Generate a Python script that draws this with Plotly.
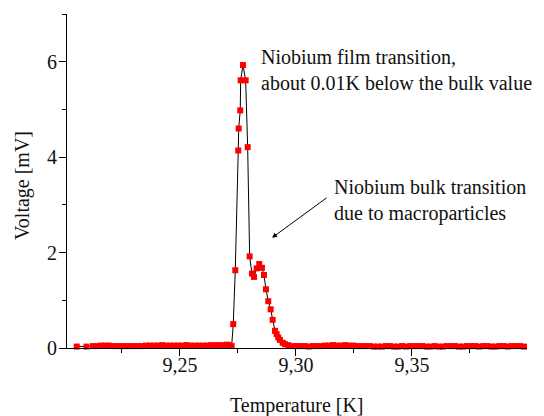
import plotly.graph_objects as go

# Temperature [K] and Voltage [mV]
temp_left = [9.2055, 9.2097, 9.2125, 9.2142, 9.2160, 9.2178, 9.2195, 9.2213, 9.2230,
             9.2248, 9.2265, 9.2283, 9.2300, 9.2318, 9.2335, 9.2353, 9.2370, 9.2388,
             9.2405, 9.2423, 9.2440, 9.2458, 9.2475, 9.2493, 9.2510, 9.2528, 9.2545,
             9.2563, 9.2580, 9.2598, 9.2615, 9.2633, 9.2650, 9.2668, 9.2685, 9.2703,
             9.2712]
volt_left = [0.03, 0.03, 0.04, 0.04, 0.05, 0.05, 0.05, 0.04, 0.04,
             0.04, 0.04, 0.04, 0.04, 0.04, 0.04, 0.05, 0.05, 0.05,
             0.05, 0.06, 0.05, 0.05, 0.05, 0.05, 0.05, 0.06, 0.05,
             0.05, 0.05, 0.05, 0.05, 0.06, 0.06, 0.06, 0.06, 0.07,
             0.06]

temp_peak = [9.27228, 9.27297, 9.27384, 9.27513, 9.27530, 9.27599, 9.27616, 9.27716,
             9.27832, 9.27918, 9.28004, 9.28103, 9.28190, 9.28306, 9.28418, 9.28534,
             9.28621, 9.28707, 9.28806, 9.28909, 9.28996, 9.29095, 9.29168, 9.29237,
             9.29310, 9.29427, 9.29526, 9.29668, 9.29884, 9.30030]
volt_peak = [0.04, 0.50, 1.63, 4.14, 4.60, 4.98, 5.61, 5.93,
             5.61, 4.21, 1.92, 1.56, 1.49, 1.67, 1.76, 1.68,
             1.53, 1.23, 0.98, 0.81, 0.59, 0.36, 0.29, 0.22,
             0.17, 0.11, 0.08, 0.06, 0.04, 0.04]

temp_right = [9.3020, 9.3038, 9.3055, 9.3073, 9.3090, 9.3108, 9.3125, 9.3143, 9.3160,
              9.3178, 9.3195, 9.3213, 9.3230, 9.3248, 9.3265, 9.3283, 9.3300, 9.3318,
              9.3335, 9.3353, 9.3370, 9.3388, 9.3405, 9.3423, 9.3440, 9.3458, 9.3475,
              9.3493, 9.3510, 9.3528, 9.3545, 9.3563, 9.3580, 9.3598, 9.3615, 9.3633,
              9.3650, 9.3668, 9.3685, 9.3703, 9.3720, 9.3738, 9.3755, 9.3773, 9.3790,
              9.3808, 9.3825, 9.3843, 9.3860, 9.3878, 9.3895, 9.3913, 9.3930, 9.3948,
              9.3965, 9.3983]
volt_right = [0.04, 0.04, 0.03, 0.04, 0.04, 0.04, 0.05, 0.05, 0.06,
              0.05, 0.05, 0.06, 0.05, 0.05, 0.04, 0.04, 0.04, 0.04,
              0.03, 0.03, 0.03, 0.04, 0.04, 0.03, 0.03, 0.04, 0.03,
              0.04, 0.04, 0.04, 0.04, 0.03, 0.03, 0.04, 0.03, 0.03,
              0.04, 0.04, 0.04, 0.03, 0.03, 0.04, 0.04, 0.04, 0.03,
              0.04, 0.04, 0.03, 0.03, 0.04, 0.04, 0.03, 0.04, 0.04,
              0.04, 0.03]

temperature = temp_left + temp_peak + temp_right
voltage = volt_left + volt_peak + volt_right

x_tickvals = [9.25, 9.30, 9.35]
x_ticktext = ["9,25", "9,30", "9,35"]
y_tickvals = [0, 2, 4, 6]
y_ticktext = ["0", "2", "4", "6"]

FONT = "Liberation Serif"

fig = go.Figure()
fig.add_trace(go.Scatter(
    x=temperature, y=voltage, mode="lines+markers",
    line=dict(color="black", width=1),
    marker=dict(symbol="square", size=6, color="#ff0000", line=dict(width=0)),
    cliponaxis=False, showlegend=False,
))

fig.update_layout(
    width=536, height=408,
    margin=dict(l=59, r=17, t=6, b=68),
    paper_bgcolor="white", plot_bgcolor="white",
    font=dict(family=FONT, size=20, color="#111"),
    xaxis=dict(
        range=[9.2013, 9.3996], showline=True, linecolor="black", linewidth=1,
        showgrid=False, zeroline=False,
        tickvals=x_tickvals, ticktext=x_ticktext,
        ticks="outside", ticklen=7, tickcolor="black", tickwidth=1,
        ticklabelstandoff=-8,
        minor=dict(ticks="outside", ticklen=4, tickcolor="black", dtick=0.025, tick0=9.2, showgrid=False),
        tickfont=dict(family=FONT, size=20, color="#111"),
    ),
    yaxis=dict(
        range=[0, 7], showline=True, linecolor="black", linewidth=1,
        showgrid=False, zeroline=False,
        tickvals=y_tickvals, ticktext=y_ticktext,
        ticks="outside", ticklen=7, tickcolor="black", tickwidth=1,
        ticklabelstandoff=-2,
        minor=dict(ticks="outside", ticklen=4, tickcolor="black", dtick=1, tick0=0, showgrid=False),
        tickfont=dict(family=FONT, size=20, color="#111"),
    ),
)

fig.add_annotation(
    xref="paper", yref="paper", x=0.5, y=-0.1707, xanchor="center", yanchor="middle",
    text="Temperature [K]", showarrow=False, font=dict(family=FONT, size=20, color="#111"),
)
fig.add_annotation(
    xref="paper", yref="paper", x=-0.0978, y=0.485, xanchor="center", yanchor="middle",
    text="Voltage [mV]", textangle=-90, showarrow=False,
    font=dict(family=FONT, size=20, color="#111"),
)
fig.add_annotation(
    x=9.2841, y=5.82, xanchor="left", yanchor="middle", align="left",
    text="Niobium film transition,<br>about 0.01K below the bulk value",
    showarrow=False, font=dict(family=FONT, size=20, color="#111"),
)
fig.add_annotation(
    x=9.3155, y=3.09, xanchor="left", yanchor="middle", align="left",
    text="Niobium bulk transition<br>due to macroparticles",
    showarrow=False, font=dict(family=FONT, size=20, color="#111"),
)
fig.add_annotation(
    x=9.2897, y=2.31, ax=56, ay=-41, axref="pixel", ayref="pixel",
    text="", showarrow=True, arrowhead=2, arrowsize=1, arrowwidth=1, arrowcolor="black",
)

fig.write_html("out.html")
